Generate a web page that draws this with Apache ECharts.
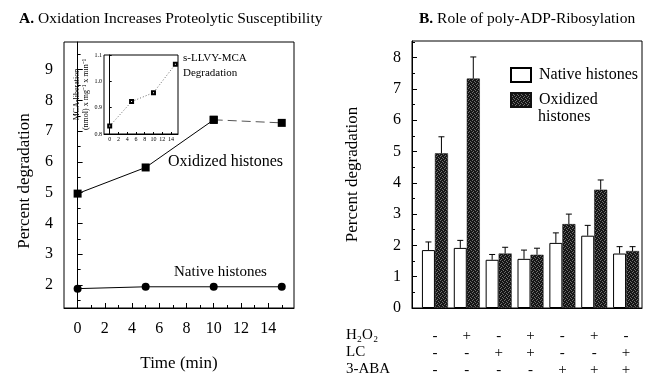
<!DOCTYPE html>
<html>
<head>
<meta charset="utf-8">
<script src="https://cdn.jsdelivr.net/npm/echarts@6/dist/echarts.min.js"></script>
<style>
  html, body { margin: 0; padding: 0; background: #fff; }
  #chart { width: 651px; height: 387px; }
</style>
</head>
<body>
<div id="chart"></div>
<script>
// panel A: time course
const tA = [0, 5, 10, 15];
const oxA = [4.97, 5.82, 7.37, 7.27];
const natA = [1.88, 1.94, 1.94, 1.94];
const xTicksA = [0, 2, 4, 6, 8, 10, 12, 14];
const xMinorA = [1, 3, 5, 7, 9, 11, 13, 15];
const yTicksA = [2, 3, 4, 5, 6, 7, 8, 9];
const yMinorA = [1.5, 2.5, 3.5, 4.5, 5.5, 6.5, 7.5, 8.5, 9.5];

// inset: s-LLVY-MCA degradation
const tInset = [0, 5, 10, 15];
const mcaInset = [0.83, 0.923, 0.957, 1.065];
const xTicksInset = [0, 2, 4, 6, 8, 10, 12, 14];
const yTicksInset = [0.8, 0.9, 1.0, 1.1];

// panel B: bars
const groupsB = [1, 2, 3, 4, 5, 6, 7];
const natB = [1.85, 1.92, 1.54, 1.57, 2.08, 2.31, 1.74];
const oxB = [4.94, 7.33, 1.74, 1.70, 2.68, 3.78, 1.82];
const natErr = [0.26, 0.24, 0.17, 0.28, 0.32, 0.33, 0.22];
const oxErr = [0.53, 0.69, 0.20, 0.21, 0.32, 0.31, 0.14];
const h2o2 = ['-', '+', '-', '+', '-', '+', '-'];
const lc = ['-', '-', '+', '+', '-', '-', '+'];
const aba = ['-', '-', '-', '-', '+', '+', '+'];
const yTicksB = [0, 1, 2, 3, 4, 5, 6, 7, 8];
const yMinorB = [0.5, 1.5, 2.5, 3.5, 4.5, 5.5, 6.5, 7.5, 8.5];

const FONT = 'Liberation Serif';

function stipple() {
  const c = document.createElement('canvas');
  c.width = 4; c.height = 4;
  const g = c.getContext('2d');
  g.fillStyle = '#161616';
  g.fillRect(0, 0, 4, 4);
  g.fillStyle = '#6e6e6e';
  [[0, 0], [2, 1], [1, 3], [3, 2]].forEach(p => g.fillRect(p[0], p[1], 1, 1));
  return c;
}

// a framed axis with major ticks + labels
function mainAxis(grid, pos, min, max, ticks, label) {
  return {
    type: 'value', gridIndex: grid, position: pos, min: min, max: max,
    axisLine: { show: true, lineStyle: { color: '#000', width: 1 } },
    axisTick: { show: true, inside: true, length: 5, customValues: ticks, lineStyle: { color: '#000' } },
    axisLabel: Object.assign({ customValues: ticks, color: '#000', fontFamily: FONT, fontSize: 16 }, label || {}),
    splitLine: { show: false }
  };
}
// same range, only short ticks
function minorAxis(grid, pos, min, max, ticks) {
  return {
    type: 'value', gridIndex: grid, position: pos, min: min, max: max,
    axisLine: { show: false },
    axisTick: { show: true, inside: true, length: 3, customValues: ticks, lineStyle: { color: '#000' } },
    axisLabel: { show: false },
    splitLine: { show: false }
  };
}

const chart = echarts.init(document.getElementById('chart'), null, { renderer: 'canvas' });

const xA = mainAxis(0, 'bottom', -1, 15.9, xTicksA, { margin: 13 });
xA.name = 'Time (min)';
xA.nameLocation = 'middle';
xA.nameGap = 47;
xA.nameTextStyle = { fontFamily: FONT, fontSize: 17, color: '#000' };

const yA = mainAxis(0, 'left', 1.25, 9.9, yTicksA, { margin: 11 });
yA.name = 'Percent degradation';
yA.nameLocation = 'middle';
yA.nameGap = 31;
yA.nameTextStyle = { fontFamily: FONT, fontSize: 17, color: '#000', padding: [0, 0, 0, -12] };

const xIn = mainAxis(1, 'bottom', -1.3, 15.6, xTicksInset, { fontSize: 6, margin: 2 });
xIn.axisTick.length = 2;
const yIn = mainAxis(1, 'left', 0.8, 1.1, yTicksInset, { fontSize: 6, margin: 2, formatter: v => v.toFixed(1) });
yIn.axisTick.length = 2;
yIn.name = 'MCA-liberation\n(nmol) x mg\u207B\u00B9 x min\u207B\u00B9';
yIn.nameLocation = 'middle';
yIn.nameGap = 13;
yIn.nameTextStyle = { fontFamily: FONT, fontSize: 8, lineHeight: 9, color: '#000' };

const xB = mainAxis(2, 'bottom', 0.28, 7.5, [], {
  customValues: groupsB,
  fontSize: 15,
  lineHeight: 17,
  margin: 20,
  formatter: v => {
    const i = groupsB.indexOf(v);
    return [h2o2[i], lc[i], aba[i]].join('\n');
  }
});
xB.axisTick.show = false;

const yB = mainAxis(2, 'left', 0, 8.53, yTicksB, { margin: 11 });
yB.name = 'Percent degradation';
yB.nameLocation = 'middle';
yB.nameGap = 51;
yB.nameTextStyle = { fontFamily: FONT, fontSize: 17, color: '#000' };

function errBars(vals, errs, shift, name) {
  return {
    type: 'custom', xAxisIndex: 3, yAxisIndex: 5, name: name, silent: true, z: 5,
    data: groupsB.map((g, i) => [g, vals[i], vals[i] + errs[i]]),
    renderItem: (params, api) => {
      const lo = api.coord([api.value(0), api.value(1)]);
      const hi = api.coord([api.value(0), api.value(2)]);
      const x = lo[0] + shift;
      return {
        type: 'group',
        children: [
          { type: 'line', shape: { x1: x, y1: lo[1], x2: x, y2: hi[1] }, style: { stroke: '#000', lineWidth: 1 } },
          { type: 'line', shape: { x1: x - 3, y1: hi[1], x2: x + 3, y2: hi[1] }, style: { stroke: '#000', lineWidth: 1 } }
        ]
      };
    }
  };
}

const lineStyleA = { color: '#000', width: 1 };

chart.setOption({
  animation: false,
  backgroundColor: '#fff',
  textStyle: { fontFamily: FONT, color: '#000' },
  grid: [
    { left: 64, right: 357, top: 42, bottom: 79, show: true, borderColor: '#000', borderWidth: 1, containLabel: false },
    { left: 104, right: 473, top: 55, bottom: 253, show: true, borderColor: '#000', borderWidth: 1, containLabel: false, z: 3 },
    { left: 412, right: 9, top: 41, bottom: 79, show: true, borderColor: '#000', borderWidth: 1, containLabel: false }
  ],
  xAxis: [
    xA,
    minorAxis(0, 'bottom', -1, 15.9, xMinorA),
    xIn,
    xB
  ],
  yAxis: [
    yA,
    minorAxis(0, 'left', 1.25, 9.9, yMinorA),
    yIn,
    yB,
    minorAxis(2, 'left', 0, 8.53, yMinorB),
    Object.assign(minorAxis(2, 'left', 0, 8.53, []), { axisTick: { show: false } })
  ],
  legend: {
    orient: 'vertical', left: 510, top: 66, padding: 0, icon: 'rect',
    itemWidth: 20, itemHeight: 14, itemGap: 7,
    data: ['Native histones', 'Oxidized histones'],
    formatter: n => n === 'Oxidized histones' ? 'Oxidized' : n,
    textStyle: { fontFamily: FONT, fontSize: 16, color: '#000', lineHeight: 18, padding: [0, 0, 0, 3] }
  },
  title: [
    { text: '{b|A.} Oxidation Increases Proteolytic Susceptibility', left: 14, top: 6,
      textStyle: { fontFamily: FONT, fontSize: 15.5, fontWeight: 'normal', color: '#000',
        rich: { b: { fontFamily: FONT, fontSize: 15.5, fontWeight: 'bold', color: '#000' } } } },
    { text: '{b|B.} Role of poly-ADP-Ribosylation', left: 414, top: 6,
      textStyle: { fontFamily: FONT, fontSize: 15.5, fontWeight: 'normal', color: '#000',
        rich: { b: { fontFamily: FONT, fontSize: 15.5, fontWeight: 'bold', color: '#000' } } } }
  ],
  graphic: [
    { type: 'text', left: 168, top: 154, style: { text: 'Oxidized histones', fontFamily: FONT, fontSize: 16, fill: '#000' } },
    { type: 'text', left: 174, top: 265, style: { text: 'Native histones', fontFamily: FONT, fontSize: 15, fill: '#000' } },
    { type: 'text', left: 183, top: 51, style: { text: 's-LLVY-MCA\nDegradation', fontFamily: FONT, fontSize: 11, lineHeight: 15, fill: '#000' } },
    { type: 'text', left: 538, top: 109, style: { text: 'histones', fontFamily: FONT, fontSize: 16, fill: '#000' } },
    { type: 'text', left: 346, top: 327, style: { text: 'H\u2082O\u2082\nLC\n3-ABA', fontFamily: FONT, fontSize: 15, lineHeight: 17, fill: '#000' } }
  ],
  series: [
    {
      type: 'line', name: 'oxidized', xAxisIndex: 0, yAxisIndex: 0,
      data: tA.slice(0, 3).map((t, i) => [t, oxA[i]]),
      symbol: 'rect', symbolSize: 8, itemStyle: { color: '#000' }, lineStyle: lineStyleA, z: 4
    },
    {
      type: 'line', name: 'oxidized-late', xAxisIndex: 0, yAxisIndex: 0,
      data: tA.slice(2).map((t, i) => [t, oxA[i + 2]]),
      symbol: 'rect', symbolSize: 8, itemStyle: { color: '#000' },
      lineStyle: { color: '#555', width: 1, type: [9, 5] }, z: 4
    },
    {
      type: 'line', name: 'native', xAxisIndex: 0, yAxisIndex: 0,
      data: tA.map((t, i) => [t, natA[i]]),
      symbol: 'circle', symbolSize: 8, itemStyle: { color: '#000' }, lineStyle: lineStyleA, z: 4
    },
    {
      type: 'line', name: 'inset', xAxisIndex: 2, yAxisIndex: 2,
      data: tInset.map((t, i) => [t, mcaInset[i]]),
      symbol: 'emptyRect', symbolSize: 3, itemStyle: { color: '#000', borderColor: '#000', borderWidth: 0.6 },
      lineStyle: { color: '#444', width: 0.8, type: [1, 2] }, z: 4
    },
    {
      type: 'bar', name: 'Native histones', xAxisIndex: 3, yAxisIndex: 3,
      data: groupsB.map((g, i) => [g, natB[i]]),
      barWidth: 13, barGap: '0%',
      itemStyle: { color: '#fff', borderColor: '#000', borderWidth: 1 }
    },
    {
      type: 'bar', name: 'Oxidized histones', xAxisIndex: 3, yAxisIndex: 3,
      data: groupsB.map((g, i) => [g, oxB[i]]),
      barWidth: 13, barGap: '0%',
      itemStyle: { color: { image: stipple(), repeat: 'repeat' }, borderColor: '#111', borderWidth: 0.5 }
    },
    errBars(natB, natErr, -6.5, 'natErr'),
    errBars(oxB, oxErr, 6.5, 'oxErr')
  ]
});
</script>
</body>
</html>
